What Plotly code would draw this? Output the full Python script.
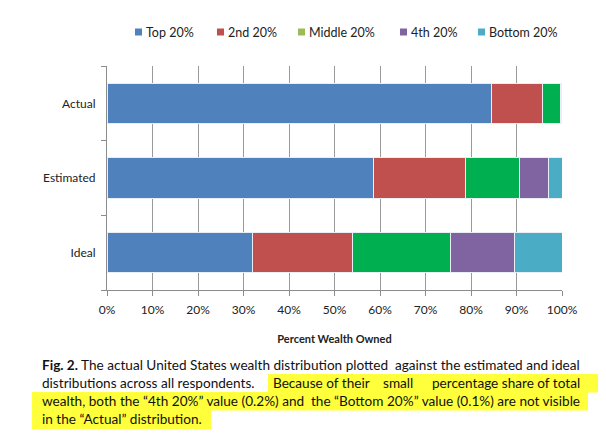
import plotly.graph_objects as go

# data (percent of total wealth)
groups = ["Actual", "Estimated", "Ideal"]
quintiles = ["Top 20%", "2nd 20%", "Middle 20%", "4th 20%", "Bottom 20%"]
top_20 = [84.5, 58.5, 31.9]
second_20 = [11.2, 20.3, 22.1]
middle_20 = [4.0, 11.9, 21.6]
fourth_20 = [0.2, 6.4, 14.0]
bottom_20 = [0.1, 2.9, 10.4]
x_ticks = [0, 10, 20, 30, 40, 50, 60, 70, 80, 90, 100]
x_tick_labels = [f"{v}%" for v in x_ticks]

bar_colors = ["#4F81BD", "#C0504D", "#00B050", "#8064A2", "#4BACC6"]
legend_colors = ["#4F81BD", "#C0504D", "#9BBB59", "#8064A2", "#4BACC6"]

# page has an 8px body margin, so the figure is drawn a bit smaller
OFF = 8
W, H = 606 - OFF, 439 - OFF
L, R, T, B = 107 - OFF, 44, 66 - OFF, 149
FONT = "Lato, 'Open Sans', sans-serif"
TXT = "#222222"


def px_x(px):
    return (px - OFF - L) / (W - L - R)


def px_y(py):
    return 1 - (py - OFF - T) / (H - T - B)


fig = go.Figure()
for name, vals, col in zip(quintiles, [top_20, second_20, middle_20, fourth_20, bottom_20], bar_colors):
    fig.add_trace(go.Bar(
        x=vals, y=groups, orientation="h", name=name, showlegend=False,
        marker=dict(color=col, line=dict(color="#E8EEF4", width=1)),
    ))

# legend drawn by hand, the reference keys sit tight against their labels
# (and use a lighter green for "Middle" than the bars)
legend_x = [135, 217, 298, 400, 478]
for name, col, lx in zip(quintiles, legend_colors, legend_x):
    fig.add_shape(type="rect", xref="paper", yref="paper",
                  x0=px_x(lx), x1=px_x(lx + 7), y0=px_y(35.5), y1=px_y(28.5),
                  fillcolor=col, line=dict(width=0))
    fig.add_annotation(x=px_x(lx + 9), y=px_y(32), xref="paper", yref="paper", text=name,
                       showarrow=False, xanchor="left", yanchor="middle",
                       font=dict(family=FONT, size=12.5, color=TXT))

# caption with yellow highlighter behind the second sentence
yellow = "#FFFF3C"
for x0, x1, y0, y1 in [(268, 602, 374, 392.5), (32, 588, 392, 410.5), (32, 211, 410, 429)]:
    fig.add_shape(type="rect", xref="paper", yref="paper", layer="below",
                  x0=px_x(x0), x1=px_x(x1), y0=px_y(y1), y1=px_y(y0),
                  fillcolor=yellow, line=dict(width=0))

cap_size = 13.6
cap_color = "#111111"
# (y, text, x, anchor) - lines are split so they look roughly justified
caption = [
    (365, "<b>Fig. 2.</b> The actual United States wealth distribution plotted", 40, "left"),
    (365, "against the estimated and ideal", 582, "right"),
    (383, "distributions across all respondents.", 40, "left"),
    (383, "Because of their", 271, "left"),
    (383, "small", 381, "left"),
    (383, "percentage share of total", 582, "right"),
    (401, "wealth, both the “4th 20%” value (0.2%) and", 40, "left"),
    (401, "the “Bottom 20%” value (0.1%) are not visible", 582, "right"),
    (419, "in the “Actual” distribution.", 40, "left"),
]
for yy, txt, xx, anchor in caption:
    fig.add_annotation(x=px_x(xx), y=px_y(yy), xref="paper", yref="paper", text=txt,
                       showarrow=False, xanchor=anchor, yanchor="middle",
                       font=dict(family=FONT, size=cap_size, color=cap_color))

fig.update_layout(
    width=W, height=H,
    margin=dict(l=L, r=R, t=T, b=B),
    barmode="stack", bargap=0.46,
    plot_bgcolor="white", paper_bgcolor="white",
    font=dict(family=FONT, size=12, color=TXT),
    showlegend=False,
    xaxis=dict(
        range=[0, 100], tickvals=x_ticks, ticktext=x_tick_labels,
        showgrid=True, gridcolor="#9A9A9A", gridwidth=1, zeroline=False,
        showline=True, linecolor="#8C8C8C", ticks="outside", ticklen=5, tickcolor="#8C8C8C",
        tickfont=dict(size=12, color=TXT), ticklabelstandoff=4,
        title=dict(text="<b>Percent Wealth Owned</b>", font=dict(size=11, color=TXT), standoff=18),
        fixedrange=True,
    ),
    yaxis=dict(
        categoryorder="array", categoryarray=groups[::-1],
        showline=True, linecolor="#8C8C8C", ticks="outside", ticklen=5, tickcolor="#8C8C8C",
        tickson="boundaries", showgrid=False, tickfont=dict(size=12, color=TXT),
        ticklabelstandoff=8, fixedrange=True,
    ),
)

fig.write_html("out.html")
